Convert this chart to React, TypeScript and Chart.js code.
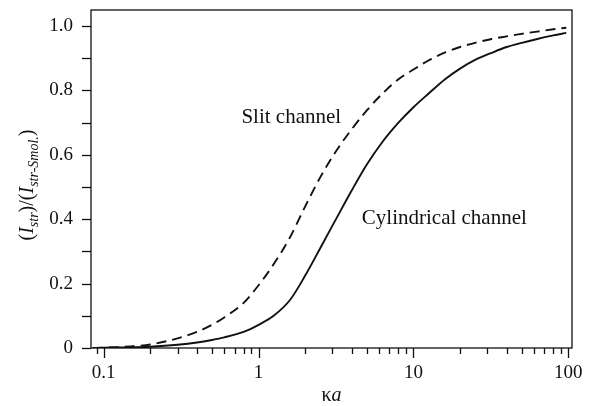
import React, { useEffect, useRef } from 'react';
import { Chart, registerables } from 'chart.js';
Chart.register(...registerables);

// κa values (log x axis)
const kaValues = [0.085, 0.1, 0.15, 0.2, 0.3, 0.4, 0.5, 0.6, 0.8, 1, 1.25, 1.6, 2, 2.5, 3.2, 4, 5, 6.3, 8, 10, 12.5, 16, 20, 25, 32, 40, 50, 63, 80, 97];
// Slit channel (dashed)
const slitValues = [0, 0.001, 0.005, 0.011, 0.03, 0.05, 0.072, 0.095, 0.14, 0.195, 0.26, 0.345, 0.44, 0.53, 0.615, 0.68, 0.738, 0.79, 0.835, 0.865, 0.893, 0.918, 0.935, 0.948, 0.96, 0.968, 0.976, 0.983, 0.99, 0.995];
// Cylindrical channel (solid)
const cylindricalValues = [0, 0.001, 0.002, 0.004, 0.01, 0.017, 0.025, 0.033, 0.05, 0.072, 0.1, 0.15, 0.225, 0.31, 0.405, 0.49, 0.57, 0.64, 0.7, 0.748, 0.79, 0.835, 0.868, 0.895, 0.917, 0.935, 0.948, 0.96, 0.971, 0.979];

const yTickValues = [0, 0.1, 0.2, 0.3, 0.4, 0.5, 0.6, 0.7, 0.8, 0.9, 1.0];
const xTickValues = [0.09, 0.1, 0.2, 0.3, 0.4, 0.5, 0.6, 0.7, 0.8, 0.9, 1, 2, 3, 4, 5, 6, 7, 8, 9, 10, 20, 30, 40, 50, 60, 70, 80, 90, 100];
const xMajorTicks = [0.1, 1, 10, 100];
const xMajorLabels = ['0.1', '1', '10', '100'];

const slitLabel = 'Slit channel';
const cylLabel = 'Cylindrical channel';

const FONT = '"Liberation Serif", "Times New Roman", serif';

export default function App() {
  const ref = useRef<HTMLCanvasElement>(null);

  useEffect(() => {
    document.body.style.margin = '0';
    if (!ref.current) return;

    const decorPlugin = {
      id: 'decor',
      afterDraw(chart: any) {
        const { ctx, chartArea: a, scales } = chart;
        const xs = scales.x;
        const ys = scales.y;
        ctx.save();
        ctx.strokeStyle = '#111';
        ctx.lineWidth = 1.3;
        ctx.strokeRect(a.left, a.top, a.right - a.left, a.bottom - a.top);

        // x tick marks
        xTickValues.forEach((v) => {
          const px = Math.round(xs.getPixelForValue(v)) + 0.5;
          const major = xMajorTicks.some((m) => Math.abs(m - v) < 1e-9);
          const len = major ? 10 : 6;
          ctx.beginPath();
          ctx.moveTo(px, a.bottom);
          ctx.lineTo(px, a.bottom + len);
          ctx.stroke();
        });
        // y tick marks
        yTickValues.forEach((v) => {
          const py = Math.round(ys.getPixelForValue(v)) + 0.5;
          ctx.beginPath();
          ctx.moveTo(a.left - 9, py);
          ctx.lineTo(a.left, py);
          ctx.stroke();
        });

        ctx.fillStyle = '#111';
        ctx.textBaseline = 'alphabetic';
        ctx.textAlign = 'left';
        // curve annotations
        ctx.font = `21px ${FONT}`;
        ctx.fillText(slitLabel, xs.getPixelForValue(0.775), ys.getPixelForValue(0.70));
        ctx.fillText(cylLabel, xs.getPixelForValue(4.64), ys.getPixelForValue(0.385));

        // x title: κa
        const cx = (a.left + a.right) / 2;
        const ty = 401;
        ctx.font = `20px ${FONT}`;
        const w1 = ctx.measureText('κ').width;
        ctx.font = `italic 20px ${FONT}`;
        const w2 = ctx.measureText('a').width;
        const sx = cx - (w1 + w2) / 2;
        ctx.font = `20px ${FONT}`;
        ctx.fillText('κ', sx, ty);
        ctx.font = `italic 20px ${FONT}`;
        ctx.fillText('a', sx + w1, ty);

        // y title
        const parts: [string, string, number][] = [
          ['(', `20px ${FONT}`, 0],
          ['I', `italic 20px ${FONT}`, 0],
          ['str', `italic 14px ${FONT}`, 5],
          [')/(', `20px ${FONT}`, 0],
          ['I', `italic 20px ${FONT}`, 0],
          ['str-Smol.', `italic 14px ${FONT}`, 5],
          [')', `20px ${FONT}`, 0],
        ];
        let total = 0;
        const widths = parts.map(([t, f]) => {
          ctx.font = f;
          const w = ctx.measureText(t).width;
          total += w;
          return w;
        });
        ctx.translate(33, 185);
        ctx.rotate(-Math.PI / 2);
        let px = -total / 2;
        parts.forEach(([t, f, dy], i) => {
          ctx.font = f;
          ctx.fillText(t, px, dy);
          px += widths[i];
        });
        ctx.restore();
      },
    };

    const chart = new Chart(ref.current, {
      type: 'line',
      data: {
        datasets: [
          {
            label: slitLabel,
            data: kaValues.map((x, i) => ({ x, y: slitValues[i] })),
            borderColor: '#111',
            borderWidth: 1.9,
            borderDash: [10, 6],
            pointRadius: 0,
            fill: false,
            cubicInterpolationMode: 'monotone',
          },
          {
            label: cylLabel,
            data: kaValues.map((x, i) => ({ x, y: cylindricalValues[i] })),
            borderColor: '#111',
            borderWidth: 1.9,
            pointRadius: 0,
            fill: false,
            cubicInterpolationMode: 'monotone',
          },
        ],
      },
      options: {
        animation: false,
        responsive: true,
        maintainAspectRatio: false,
        layout: { padding: { top: 10, right: 41, left: 0, bottom: 0 } },
        plugins: { legend: { display: false }, tooltip: { enabled: false } },
        scales: {
          x: {
            type: 'logarithmic',
            min: 0.0828,
            max: 105.6,
            grid: { display: false, drawTicks: false },
            border: { display: false },
            afterBuildTicks: (s: any) => {
              s.ticks = xTickValues.map((v) => ({ value: v }));
            },
            afterFit: (s: any) => {
              s.height = 58;
              s.paddingLeft = 0;
              s.paddingRight = 0;
            },
            ticks: {
              autoSkip: false,
              maxRotation: 0,
              padding: 14,
              color: '#111',
              font: { family: FONT, size: 19 },
              callback: (v: any) => {
                const idx = xMajorTicks.findIndex((m) => Math.abs(m - Number(v)) < 1e-9);
                return idx >= 0 ? xMajorLabels[idx] : '';
              },
            },
          },
          y: {
            type: 'linear',
            min: 0,
            max: 1.05,
            grid: { display: false, drawTicks: false },
            border: { display: false },
            afterBuildTicks: (s: any) => {
              s.ticks = yTickValues.map((v) => ({ value: v }));
            },
            afterFit: (s: any) => {
              s.width = 91;
              s.paddingTop = 0;
              s.paddingBottom = 0;
            },
            ticks: {
              padding: 18,
              color: '#111',
              font: { family: FONT, size: 19 },
              callback: (v: any) => {
                const n = Math.round(Number(v) * 10);
                if (n % 2 !== 0) return '';
                return n === 0 ? '0' : (n / 10).toFixed(1);
              },
            },
          },
        },
      },
      plugins: [decorPlugin],
    } as any);

    return () => chart.destroy();
  }, []);

  return (
    <div style={{ width: 613, height: 406, position: 'relative' }}>
      <canvas ref={ref} />
    </div>
  );
}
